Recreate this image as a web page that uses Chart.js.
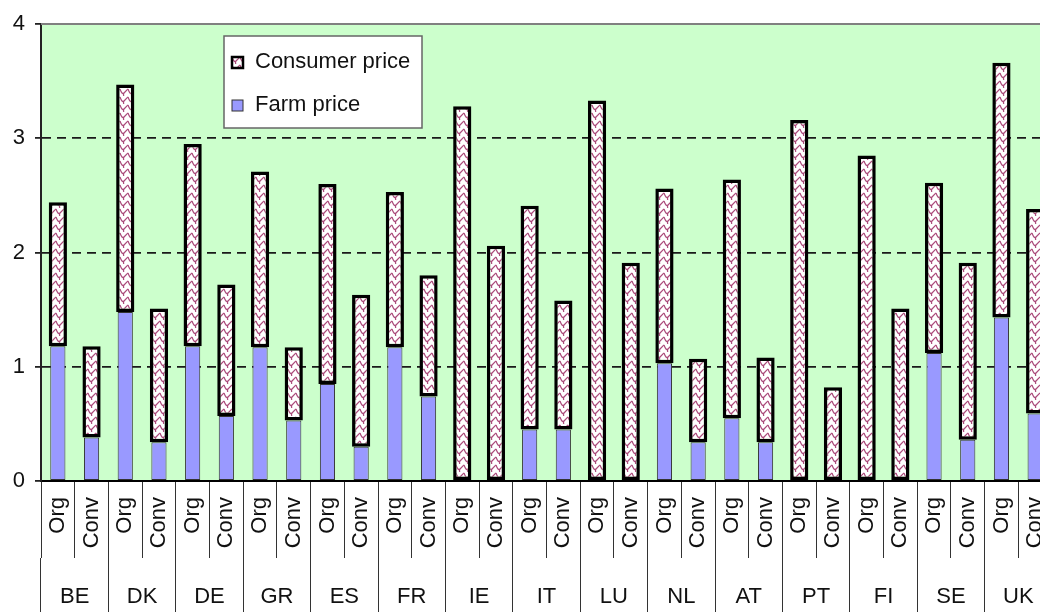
<!DOCTYPE html>
<html>
<head>
<meta charset="utf-8">
<script src="https://cdn.jsdelivr.net/npm/chart.js@4.4.1/dist/chart.umd.min.js"></script>
<style>
  html, body { margin: 0; padding: 0; background: #fff; overflow: hidden; }
  canvas { display: block; }
</style>
</head>
<body>
<canvas id="priceChart" width="1056" height="612"></canvas>
<script>
// values, order: Org, Conv per country
const countries = ['BE', 'DK', 'DE', 'GR', 'ES', 'FR', 'IE', 'IT', 'LU', 'NL', 'AT', 'PT', 'FI', 'SE', 'UK'];
const types = ['Org', 'Conv'];
const consumerPrice = [2.44, 1.18, 3.47, 1.51, 2.95, 1.72, 2.71, 1.17, 2.60, 1.63, 2.53, 1.80, 3.28, 2.06, 2.41, 1.58,
  3.33, 1.91, 2.56, 1.07, 2.64, 1.08, 3.16, 0.82, 2.85, 1.51, 2.61, 1.91, 3.66, 2.38];
const farmPrice = [1.18, 0.38, 1.48, 0.34, 1.18, 0.57, 1.17, 0.53, 0.85, 0.30, 1.17, 0.74, null, null, 0.45, 0.45,
  null, null, 1.03, 0.34, 0.55, 0.34, null, null, null, null, 1.12, 0.36, 1.43, 0.59];
const yTicks = [0, 1, 2, 3, 4];

const FONT = '"Liberation Sans", Arial, sans-serif';
const categories = countries.flatMap(() => types);

// wavy maroon hatch on white, like the old spreadsheet fill
function makeHatch() {
  const tile = document.createElement('canvas');
  tile.width = 8;
  tile.height = 8;
  const t = tile.getContext('2d');
  t.fillStyle = '#ffffff';
  t.fillRect(0, 0, 8, 8);
  t.strokeStyle = 'rgba(150, 30, 90, 0.8)';
  t.lineWidth = 1.2;
  t.beginPath();
  t.moveTo(0, 1);
  t.quadraticCurveTo(2, 7, 4, 5);
  t.quadraticCurveTo(6, 3, 8, 1);
  t.moveTo(4, 5);
  t.quadraticCurveTo(3, 7, 4, 8);
  t.stroke();
  return t.createPattern(tile, 'repeat');
}
const hatch = makeHatch();

const plotBackground = {
  id: 'plotBackground',
  beforeDraw(chart) {
    const { ctx, chartArea: a } = chart;
    ctx.save();
    ctx.fillStyle = '#ccffcc';
    ctx.fillRect(a.left, a.top, a.width, a.height);
    ctx.restore();
  },
  afterDatasetsDraw(chart) {
    const { ctx, chartArea: a } = chart;
    ctx.save();
    ctx.strokeStyle = '#808080';
    ctx.lineWidth = 2;
    ctx.beginPath();
    ctx.moveTo(a.left, a.top);
    ctx.lineTo(a.right, a.top);
    ctx.stroke();
    ctx.restore();
  }
};

// boxed legend sitting inside the plot
const boxLegend = {
  id: 'boxLegend',
  afterDraw(chart) {
    const { ctx, chartArea: a } = chart;
    const x = a.left + 183, y = a.top + 12, w = 198, h = 92;
    ctx.save();
    ctx.fillStyle = '#ffffff';
    ctx.fillRect(x, y, w, h);
    ctx.strokeStyle = '#666666';
    ctx.lineWidth = 1.5;
    ctx.strokeRect(x, y, w, h);
    ctx.font = '22px ' + FONT;
    ctx.textBaseline = 'middle';
    chart.data.datasets.forEach((ds, i) => {
      const my = y + 21 + i * 43;
      ctx.fillStyle = ds.backgroundColor;
      ctx.fillRect(x + 8, my, 11, 11);
      ctx.strokeStyle = ds.borderColor;
      ctx.lineWidth = i === 0 ? 2.5 : 1;
      ctx.strokeRect(x + 8, my, 11, 11);
      ctx.fillStyle = '#111';
      ctx.fillText(ds.label, x + 31, my + 5);
    });
    ctx.restore();
  }
};

new Chart(document.getElementById('priceChart'), {
  type: 'bar',
  data: {
    labels: categories,
    datasets: [
      {
        label: 'Consumer price',
        data: consumerPrice.map((v, i) => [farmPrice[i] ?? 0, v]),
        backgroundColor: hatch,
        borderColor: '#000000',
        borderWidth: 3.5,
        borderSkipped: false,
        grouped: false,
        barPercentage: 0.54,
        categoryPercentage: 1
      },
      {
        label: 'Farm price',
        data: farmPrice,
        backgroundColor: '#9999ff',
        borderColor: '#333333',
        borderWidth: 1,
        borderSkipped: false,
        grouped: false,
        barPercentage: 0.45,
        categoryPercentage: 1
      }
    ]
  },
  options: {
    responsive: false,
    animation: false,
    layout: { padding: { top: 24, right: 4, left: 0, bottom: 0 } },
    plugins: {
      legend: { display: false },
      tooltip: { enabled: false }
    },
    scales: {
      x: {
        offset: true,
        weight: 0,
        grid: { offset: true, drawOnChartArea: false, drawTicks: true, tickLength: 77, color: '#333', lineWidth: 1 },
        border: { display: true, color: '#000', width: 2 },
        ticks: {
          autoSkip: false,
          minRotation: 90,
          maxRotation: 90,
          padding: -61,
          color: '#111',
          font: { family: FONT, size: 22 }
        },
        afterFit(s) { s.height = 77; }
      },
      x2: {
        type: 'category',
        position: 'bottom',
        labels: countries,
        offset: true,
        weight: 1,
        grid: { offset: true, drawOnChartArea: false, drawTicks: true, tickLength: 56, color: '#333', lineWidth: 1 },
        border: { display: false },
        ticks: {
          autoSkip: false,
          maxRotation: 0,
          padding: -30,
          color: '#111',
          font: { family: FONT, size: 22 }
        },
        afterFit(s) { s.height = 54; }
      },
      y: {
        min: 0,
        max: 4,
        stacked: false,
        afterBuildTicks(s) { s.ticks = yTicks.map(v => ({ value: v })); },
        grid: {
          color: (c) => (c.tick && c.tick.value === 4 ? 'rgba(0,0,0,0)' : '#1a1a1a'),
          tickColor: '#222',
          lineWidth: 1.8,
          tickLength: 6
        },
        border: { display: true, color: '#222', width: 2, dash: [9, 6] },
        ticks: {
          padding: 10,
          color: '#111',
          font: { family: FONT, size: 22 }
        },
        afterFit(s) { s.width = 41; }
      }
    }
  },
  plugins: [plotBackground, boxLegend]
});
</script>
</body>
</html>
